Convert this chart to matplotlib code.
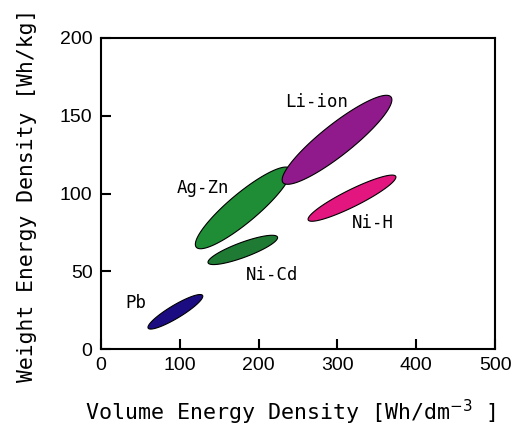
import numpy as np
import matplotlib
matplotlib.use("Agg")
import matplotlib.pyplot as plt
from matplotlib.patches import Polygon
from matplotlib import font_manager

# Data: battery types with ranges (endpoints of the region) in
# volume energy density [Wh/dm^3] and weight energy density [Wh/kg]
batteries = ["Pb", "Ni-Cd", "Ag-Zn", "Li-ion", "Ni-H"]
vol_low = [60, 136, 121, 231, 263]
wt_low = [13.5, 55.5, 65.5, 107, 83]
vol_high = [129, 224, 240, 368, 374]
wt_high = [34.5, 72, 116, 162, 111]
label_x = [45, 217, 130, 274, 345]
label_y = [29.5, 47.5, 103.5, 159, 81]

colors = ["#1b0c82", "#1f7b34", "#1f8d35", "#901a8b", "#e3157f"]
thickness_px = [13, 15, 29, 31, 17]

names = {f.name for f in font_manager.fontManager.ttflist}
tick_font = "Liberation Sans Narrow" if "Liberation Sans Narrow" in names else "Liberation Sans"
mono = "DejaVu Sans Mono"

fig = plt.figure(figsize=(5.12, 4.30), dpi=100)
ax = fig.add_axes([0.197, 0.188, 0.770, 0.724])
ax.set_xlim(0, 500)
ax.set_ylim(0, 200)

def ellipse_poly(p1, p2, minor_px):
    a = ax.transData.transform(p1)
    b = ax.transData.transform(p2)
    c = (a + b) / 2
    d = b - a
    L = np.hypot(*d) / 2
    u = d / np.hypot(*d)
    v = np.array([-u[1], u[0]])
    t = np.linspace(0, 2 * np.pi, 200)
    pts = c + np.outer(L * np.cos(t), u) + np.outer(minor_px / 2 * np.sin(t), v)
    return ax.transData.inverted().transform(pts)

for i, name in enumerate(batteries):
    pts = ellipse_poly((vol_low[i], wt_low[i]), (vol_high[i], wt_high[i]), thickness_px[i])
    ax.add_patch(Polygon(pts, closed=True, facecolor=colors[i], edgecolor="black",
                         linewidth=0.8, zorder=3))
    ax.text(label_x[i], label_y[i], name, fontsize=12.5, family=mono,
            ha="center", va="center", zorder=4)

ax.set_xticks([0, 100, 200, 300, 400, 500])
ax.set_yticks([0, 50, 100, 150, 200])
ax.tick_params(direction="in", length=7, width=1.5, labelsize=14, top=False, right=False,
               pad=6)
for lab in ax.get_xticklabels() + ax.get_yticklabels():
    lab.set_family(tick_font)
for s in ax.spines.values():
    s.set_linewidth(1.5)

fig.text(0.567, 0.04, "Volume Energy Density [Wh/dm$^{-3}$ ]", fontsize=15.6,
         family=mono, ha="center", va="center")
fig.text(0.053, 0.545, "Weight Energy Density [Wh/kg]", fontsize=15.4,
         family=mono, ha="center", va="center", rotation=90)

fig.savefig("out.png", dpi=100)
